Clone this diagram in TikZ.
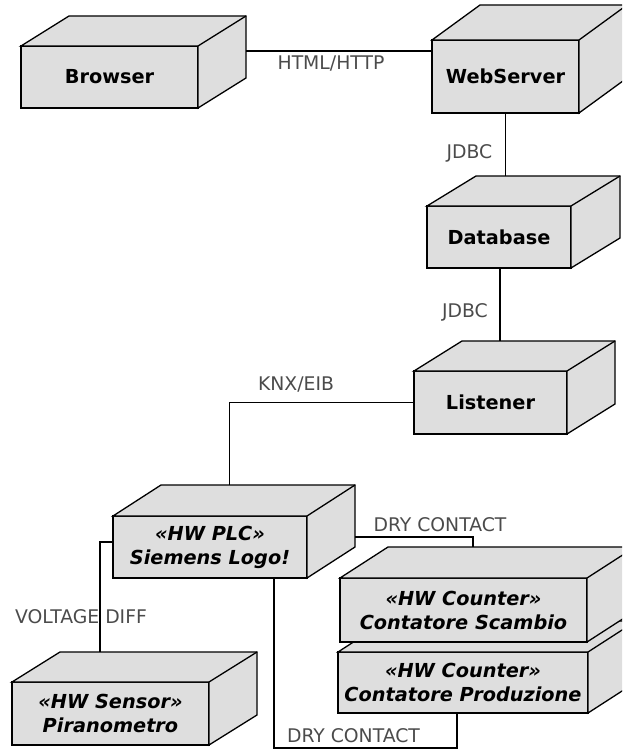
\documentclass[tikz,border=0pt]{standalone}
\usepackage{fontspec}
\setmainfont{DejaVu Sans}
\usetikzlibrary{calc}
\definecolor{boxfill}{RGB}{222,222,222}
\definecolor{lblgray}{RGB}{75,75,75}
\newcommand\boxdepth[3]{%
  \coordinate (#1-bnw) at ($(#1.north west)+(#2,-#3)$);
  \coordinate (#1-bne) at ($(#1.north east)+(#2,-#3)$);
  \coordinate (#1-bse) at ($(#1.south east)+(#2,-#3)$);
  \path[face] (#1.north west) -- (#1-bnw) -- (#1-bne) -- (#1-bse) -- (#1.south east) -- (#1.north east) -- cycle;
  \path[face] (#1.north east) -- (#1-bne);
}
\begin{document}
\begin{tikzpicture}[x=1pt,y=-1pt,
  nodebox/.style={draw=black, fill=boxfill, line width=1.5pt, outer sep=0pt, inner sep=2pt,
    font=\fontsize{19.3}{24}\selectfont\bfseries, align=center},
  stereo/.style={nodebox, font=\fontsize{19.3}{24}\selectfont\bfseries\itshape},
  face/.style={draw=black, fill=boxfill, line width=1.3pt, line join=miter},
  conn/.style={draw=black, line width=1.5pt},
  lbl/.style={text=lblgray, font=\fontsize{18.8}{22}\selectfont, inner sep=0pt}]
\useasboundingbox (0,0) rectangle (622,749);
\clip (0,0) rectangle (622,749);

% nodes
\node[nodebox, minimum width=177, minimum height=62] (browser) at (109.5,77) {Browser};
\boxdepth{browser}{48}{30}
\node[nodebox, minimum width=147, minimum height=73] (webserver) at (505.5,76.5) {WebServer};
\boxdepth{webserver}{48}{35}
\node[nodebox, minimum width=144, minimum height=62] (database) at (499,237) {Database};
\boxdepth{database}{49}{30}
\node[nodebox, minimum width=153, minimum height=63] (listener) at (490.5,402.5) {Listener};
\boxdepth{listener}{48}{30}
\node[stereo, minimum width=194, minimum height=62] (plc) at (210,547) {«HW PLC»\\Siemens Logo!};
\boxdepth{plc}{48}{31}
\node[stereo, minimum width=250, minimum height=61] (produzione) at (463,682.5) {«HW Counter»\\Contatore Produzione};
\boxdepth{produzione}{48}{31}
\node[stereo, minimum width=247, minimum height=64] (scambio) at (463.5,610) {«HW Counter»\\Contatore Scambio};
\boxdepth{scambio}{48}{31}
\node[stereo, minimum width=197, minimum height=63] (piranometro) at (110.5,713.5) {«HW Sensor»\\Piranometro};
\boxdepth{piranometro}{48}{30}

% connectors
\draw[conn] (browser-bne |- 0,51) -- (webserver.west |- 0,51);
\draw[conn] (webserver.south) -- (webserver.south |- database-bnw);
\draw[conn] ([xshift=1pt]database.south) -- ([xshift=1pt]database.south |- listener-bnw);
\draw[conn] (listener.west) -| ([xshift=68.5pt]plc-bnw);
\draw[conn] (plc-bne |- 0,537) -| ([xshift=85pt]scambio-bnw);
\draw[conn] ([yshift=5pt]plc.west) -| ([xshift=40pt]piranometro-bnw);
\coordinate (dcbend) at (457,748);
\draw[conn] ([xshift=64pt]plc.south) |- (dcbend) -- (dcbend |- produzione.south);

% labels
\node[lbl] (l1) at (331,64) {HTML/HTTP};
\node[lbl] (l2) at (469.5,153) {JDBC};
\node[lbl] (l3) at (465,312) {JDBC};
\node[lbl] (l4) at (296,385) {KNX/EIB};
\node[lbl] (l5) at (440,525) {DRY CONTACT};
\node[lbl] (l6) at (81,617) {VOLTAGE DIFF};
\node[lbl] (l7) at (353.5,736) {DRY CONTACT};
\end{tikzpicture}
\end{document}
